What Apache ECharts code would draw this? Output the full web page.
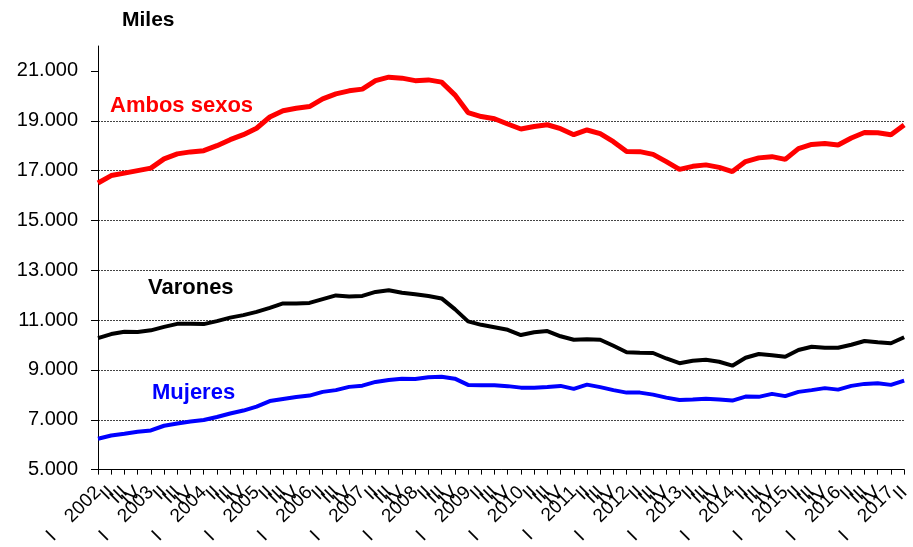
<!DOCTYPE html>
<html>
<head>
<meta charset="utf-8">
<script src="https://cdn.jsdelivr.net/npm/echarts@6/dist/echarts.min.js"></script>
<style>
html,body{margin:0;padding:0;background:#fff;}
#chart{width:913px;height:547px;}
</style>
</head>
<body>
<div id="chart"></div>
<script>
const years = [2002,2003,2004,2005,2006,2007,2008,2009,2010,2011,2012,2013,2014,2015,2016,2017];
const quarters = ['I','II','III','IV'];
const nPoints = 62;
const categories = [];
for (let i = 0; i < nPoints; i++) {
  const q = i % 4, y = years[Math.floor(i / 4)];
  categories.push(q === 0 ? 'I    ' + y : quarters[q]);
}
const ambosSexos = [16500,16800,16900,17000,17100,17470,17670,17750,17800,18000,18240,18440,18700,19150,19400,19500,19570,19880,20080,20200,20270,20610,20750,20710,20610,20640,20550,20040,19330,19170,19080,
  18870,18670,18770,18840,18680,18440,18630,18480,18160,17770,17760,17650,17360,17050,17170,17230,17130,16960,17360,17510,17560,17450,17880,18050,18090,18030,18310,18530,18520,18440,18830];
const varones = [10280,10440,10530,10520,10590,10730,10850,10850,10840,10960,11100,11200,11330,11490,11670,11670,11690,11840,11990,11950,11970,12130,12200,12100,12040,11970,11870,11440,10950,10810,10710,
  10610,10400,10510,10560,10350,10210,10230,10210,9970,9710,9690,9680,9460,9270,9370,9410,9330,9170,9490,9640,9590,9530,9800,9930,9890,9890,10010,10160,10110,10070,10310];
const mujeres = [6240,6370,6440,6520,6570,6760,6850,6930,6990,7110,7250,7370,7530,7750,7830,7910,7970,8120,8190,8320,8370,8520,8600,8650,8640,8710,8730,8650,8400,8390,8390,
  8350,8290,8290,8320,8360,8240,8410,8310,8190,8090,8090,8010,7890,7790,7810,7840,7810,7770,7930,7920,8040,7950,8120,8190,8270,8210,8360,8440,8470,8400,8570];
const yTicks = [5000,7000,9000,11000,13000,15000,17000,19000,21000];

const font = 'Arial, "Liberation Sans", sans-serif';
const chart = echarts.init(document.getElementById('chart'), null, {renderer:'canvas'});
chart.setOption({
  animation: false,
  backgroundColor: '#fff',
  grid: {left: 98, right: 2, top: 46, bottom: 76, containLabel: false},
  xAxis: {
    type: 'category',
    data: categories,
    boundaryGap: false,
    axisLine: {lineStyle: {color: '#000', width: 1}},
    axisTick: {show: true, length: 5, interval: 0, lineStyle: {color: '#000'}},
    axisLabel: {interval: 0, rotate: 45, margin: 20, color: '#000', fontSize: 19, fontFamily: font},
    splitLine: {show: false}
  },
  yAxis: {
    type: 'value',
    min: 5000, max: 22000,
    axisLine: {show: true, lineStyle: {color: '#000', width: 1}},
    axisTick: {show: true, length: 7, customValues: yTicks, lineStyle: {color: '#000'}},
    axisLabel: {customValues: yTicks, margin: 20, color: '#000', fontSize: 20, fontFamily: font,
      formatter: v => v.toLocaleString('de-DE').replace(',', '.')},
    splitLine: {show: true, showMinLine: false, showMaxLine: false, lineStyle: {color: '#444', type: [2,1], width: 1}}
  },
  series: [
    {name: 'Ambos sexos', type: 'line', data: ambosSexos, symbol: 'none', lineStyle: {color: '#ff0000', width: 5}, z: 3},
    {name: 'Varones', type: 'line', data: varones, symbol: 'none', lineStyle: {color: '#000000', width: 4}, z: 2},
    {name: 'Mujeres', type: 'line', data: mujeres, symbol: 'none', lineStyle: {color: '#0000ff', width: 4}, z: 2}
  ],
  graphic: [
    {type: 'text', left: 122, top: 10, style: {text: 'Miles', fill: '#000', font: 'bold 21px ' + font}},
    {type: 'text', left: 110, top: 95, style: {text: 'Ambos sexos', fill: '#ff0000', font: 'bold 22px ' + font}},
    {type: 'text', left: 148, top: 277, style: {text: 'Varones', fill: '#000', font: 'bold 22px ' + font}},
    {type: 'text', left: 152, top: 382, style: {text: 'Mujeres', fill: '#0000ff', font: 'bold 22px ' + font}}
  ]
});
</script>
</body>
</html>
